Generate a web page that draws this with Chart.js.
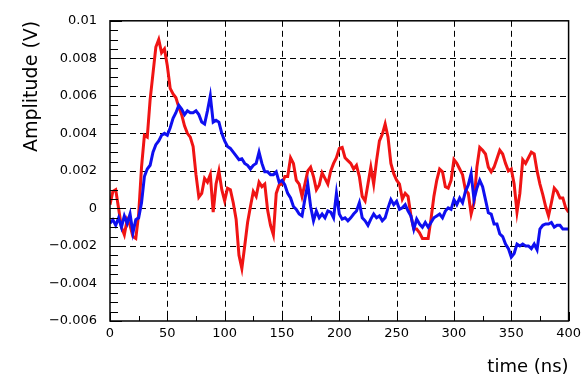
<!DOCTYPE html>
<html>
<head>
<meta charset="utf-8">
<script src="https://cdn.jsdelivr.net/npm/chart.js@4.4.1/dist/chart.umd.min.js"></script>
<style>
  html, body { margin: 0; padding: 0; background: #fff; }
  #wrap { width: 586px; height: 380px; }
</style>
</head>
<body>
<div id="wrap"><canvas id="scope"></canvas></div>
<script>
// --- DATA (amplitudes in mV, one sample every 2.5 ns from 0 to 400 ns) ---
const SAMPLE_NS = 2.5;

const redAmp = [
  0.2, 0.9, 1.0, 0.0, -1.0, -1.4, -0.6, -0.9, -1.5, -1.6,
  -0.3, 2.2, 3.9, 3.8, 5.8, 7.2, 8.6, 9.0, 8.3, 8.5,
  7.6, 6.4, 6.1, 5.9, 5.4, 5.0, 4.4, 4.0, 3.8, 3.3,
  1.8, 0.6, 0.8, 1.6, 1.4, 1.8, -0.2, 1.3, 2.0, 1.0,
  0.4, 1.08, 1.0, 0.3, -0.57, -2.5, -3.2, -2.0, -0.75, 0.1,
  0.9, 0.64, 1.4, 1.16, 1.3, -0.1, -0.9, -1.4, 0.8, 1.25,
  1.3, 1.7, 1.7, 2.7, 2.4, 1.5, 1.3, 0.64, 1.3, 2.0,
  2.2, 1.7, 1.0, 1.25, 1.9, 1.6, 1.3, 2.0, 2.4, 2.7,
  3.2, 3.25, 2.7, 2.55, 2.4, 2.1, 2.3, 1.7, 0.64, 0.4,
  1.3, 2.2, 1.3, 2.55, 3.6, 3.95, 4.5, 3.8, 2.4, 1.85,
  1.5, 1.3, 0.5, 0.8, 0.64, -0.4, -1.1, -1.1, -1.3, -1.6,
  -1.6, -1.6, -0.57, 0.64, 1.5, 2.1, 1.95, 1.16, 1.08, 1.5,
  2.6, 2.4, 2.1, 1.8, 1.0, 0.8, -0.3, 0.3, 2.2, 3.25,
  3.1, 2.9, 2.2, 1.95, 2.2, 2.65, 3.1, 2.9, 2.4, 2.0,
  2.1, 1.3, -0.2, 0.8, 2.6, 2.4, 2.7, 3.0, 2.9, 2.0,
  1.3, 0.73, 0.1, -0.4, 0.3, 1.08, 0.9, 0.55, 0.55, 0.03,
  -0.2
];

const blueAmp = [
  -0.8, -0.6, -0.9, -0.5, -1.0, -0.4, -0.8, -0.3, -1.3, -0.6,
  -0.5, 0.3, 1.7, 2.1, 2.3, 3.0, 3.4, 3.6, 3.9, 4.0,
  3.9, 4.3, 4.8, 5.1, 5.5, 5.3, 5.0, 5.2, 5.1, 5.1,
  5.2, 5.0, 4.6, 4.5, 5.2, 6.0, 4.6, 4.7, 4.6, 4.0,
  3.6, 3.3, 3.2, 3.0, 2.8, 2.6, 2.65, 2.4, 2.3, 2.1,
  2.3, 2.4, 3.0, 2.4, 1.95, 1.95, 1.8, 1.8, 1.95, 1.4,
  1.5, 1.25, 0.8, 0.56, 0.1, -0.05, -0.3, -0.4, 0.5, 1.3,
  0.1, -0.66, -0.14, -0.5, -0.3, -0.5, -0.14, -0.2, -0.5, 0.8,
  -0.3, -0.57, -0.5, -0.66, -0.5, -0.3, -0.14, 0.3, -0.5, -0.66,
  -0.9, -0.57, -0.3, -0.5, -0.4, -0.66, -0.5, 0.03, 0.47, 0.2,
  0.38, -0.05, 0.03, 0.2, -0.14, -0.4, -1.1, -0.57, -0.83, -1.0,
  -0.75, -1.0, -0.75, -0.5, -0.4, -0.3, -0.5, -0.14, 0.03, -0.05,
  0.47, 0.2, 0.55, 0.3, 0.9, 1.25, 1.85, 0.47, 1.08, 1.5,
  1.16, 0.47, -0.23, -0.3, -0.83, -0.83, -1.36, -1.5, -1.9, -2.14,
  -2.6, -2.4, -1.9, -2.0, -1.9, -2.0, -2.0, -2.14, -1.9, -2.2,
  -1.1, -0.9, -0.83, -0.83, -0.75, -1.0, -0.9, -0.9, -1.1, -1.1,
  -1.1
];

const xTickLabels = ['0', '50', '100', '150', '200', '250', '300', '350', '400'];
const yTickLabels = ['\u22120.006', '\u22120.004', '\u22120.002', '0', '0.002', '0.004', '0.006', '0.008', '0.01'];
const xTickValues = [0, 50, 100, 150, 200, 250, 300, 350, 400];
const yTickValues = [-0.006, -0.004, -0.002, 0, 0.002, 0.004, 0.006, 0.008, 0.01];

// --- HELPERS ---
const toPoints = (amps) => amps.map((mv, i) => ({ x: i * SAMPLE_NS, y: mv / 1000 }));
const crisp = (p) => Math.round(p) + 0.5;

// dashed grid under the traces
const dashedGrid = {
  id: 'dashedGrid',
  beforeDatasetsDraw(chart) {
    const { ctx, chartArea: a, scales: { x, y } } = chart;
    ctx.save();
    ctx.strokeStyle = '#000';
    ctx.lineWidth = 1;
    ctx.setLineDash([6, 4]);
    ctx.beginPath();
    xTickValues.slice(1, -1).forEach(v => {
      const px = crisp(x.getPixelForValue(v));
      ctx.moveTo(px, a.top);
      ctx.lineTo(px, a.bottom);
    });
    yTickValues.slice(1, -1).forEach(v => {
      const py = crisp(y.getPixelForValue(v));
      ctx.moveTo(a.left, py);
      ctx.lineTo(a.right, py);
    });
    ctx.stroke();
    ctx.restore();
  }
};

// frame + small inward ticks, the way ROOT draws them
const frameAndTicks = {
  id: 'frameAndTicks',
  afterDraw(chart) {
    const { ctx, chartArea: a, scales: { x, y } } = chart;
    ctx.save();
    ctx.strokeStyle = '#000';
    ctx.lineWidth = 1;
    ctx.beginPath();
    // y ticks every 0.0005
    for (let k = 0; k <= 32; k++) {
      const py = crisp(y.getPixelForValue(-0.006 + k * 0.0005));
      const len = (k % 4 === 0) ? 12 : 8;
      ctx.moveTo(a.left, py);
      ctx.lineTo(a.left + len, py);
    }
    // x ticks every 25 ns
    for (let k = 0; k <= 16; k++) {
      const px = crisp(x.getPixelForValue(k * 25));
      const len = (k % 2 === 0) ? 9 : 5;
      ctx.moveTo(px, a.bottom);
      ctx.lineTo(px, a.bottom - len);
    }
    ctx.stroke();
    ctx.lineWidth = 1.5;
    ctx.strokeRect(a.left, a.top, a.right - a.left, a.bottom - a.top);
    ctx.restore();
  }
};

// --- CHART ---
const ctx = document.getElementById('scope').getContext('2d');
const chart = new Chart(ctx, {
  type: 'line',
  data: {
    datasets: [
      {
        label: 'blue',
        data: toPoints(blueAmp),
        borderColor: 'rgb(15, 15, 240)',
        borderWidth: 3,
        pointRadius: 0,
        tension: 0,
        fill: false
      },
      {
        label: 'red',
        data: toPoints(redAmp),
        borderColor: 'rgb(240, 20, 20)',
        borderWidth: 3,
        pointRadius: 0,
        tension: 0,
        fill: false
      }
    ]
  },
  options: {
    responsive: true,
    maintainAspectRatio: false,
    animation: false,
    layout: { padding: { top: 14, right: 15, left: 0, bottom: 0 } },
    plugins: { legend: { display: false }, tooltip: { enabled: false } },
    scales: {
      x: {
        type: 'linear',
        min: 0,
        max: 400,
        afterFit: (s) => { s.height = 59; },
        afterBuildTicks: (s) => { s.ticks = xTickValues.map(v => ({ value: v })); },
        ticks: {
          padding: 5,
          color: '#000',
          font: { family: 'DejaVu Sans', size: 13 },
          callback: (v, i) => xTickLabels[i]
        },
        grid: { display: false, drawTicks: false },
        border: { display: false },
        title: {
          display: true,
          text: 'time (ns)',
          align: 'end',
          color: '#000',
          font: { family: 'DejaVu Sans', size: 18 },
          padding: { top: 0, bottom: 2 }
        }
      },
      y: {
        min: -0.006,
        max: 0.01,
        afterFit: (s) => { s.width = 110; },
        afterBuildTicks: (s) => { s.ticks = yTickValues.map(v => ({ value: v })); },
        ticks: {
          padding: 13,
          color: '#000',
          font: { family: 'DejaVu Sans', size: 13 },
          callback: (v, i) => yTickLabels[i]
        },
        grid: { display: false, drawTicks: false },
        border: { display: false },
        title: {
          display: true,
          text: 'Amplitude (V)',
          align: 'end',
          color: '#000',
          font: { family: 'DejaVu Sans', size: 19 },
          padding: { top: 21, bottom: 0 }
        }
      }
    }
  },
  plugins: [dashedGrid, frameAndTicks]
});
</script>
</body>
</html>
